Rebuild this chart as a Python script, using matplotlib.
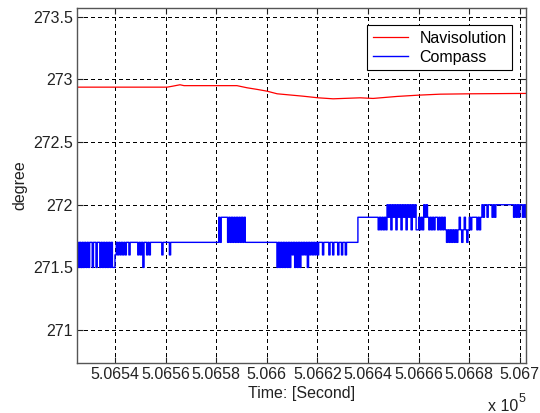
import numpy as np
import matplotlib
matplotlib.use("Agg")
import matplotlib.pyplot as plt
from matplotlib.ticker import FixedLocator, FixedFormatter

plt.rcParams['font.family'] = ['Liberation Sans', 'DejaVu Sans']

# ---------- Data ----------
# Navisolution heading, time [s] / degree
NAVI_T = [506525.0, 506560.6, 506562.6, 506565.7, 506567.3, 506588.2,
          506592.2, 506596.2, 506600.1, 506604.1, 506614.3, 506620.3,
          506626.2, 506636.9, 506642.0, 506651.5, 506659.8, 506668.5,
          506680.4, 506702.5]
NAVI_DEG = [272.938, 272.938, 272.945, 272.957, 272.950, 272.950,
            272.933, 272.920, 272.906, 272.885, 272.866, 272.853,
            272.845, 272.853, 272.848, 272.864, 272.874, 272.882,
            272.885, 272.888]

# Compass heading, one sample every 0.5 s starting at COMPASS_T0.
# Each character is the reading in tenths above 271.5 deg.
COMPASS_T0 = 506525.0
COMPASS_DT = 0.5
COMPASS_CODES = [
    "2020202020", "220220", "22020202020200", "121212121221",
    "222222121202212122222222212222212",
    "2222222222222222222222222222222222222",
    "424444424242424242424",
    "2222222222222222222222222",
    "02020202020", "2120202021212021212121",
    "2221222212212221221221222222222",
    "4444444444444444", "3434343",
    "545354535453545354535453", "34343545", "434343443434343",
    "232323232343234323", "4344443434", "54554555454",
    "55555555555555", "454545", "54545",
]
COMPASS_BASE = 271.5
COMPASS_STEP = 0.1

X_TICKS = [506540, 506560, 506580, 506600, 506620, 506640, 506660, 506680, 506700]
X_LABELS = ["5.0654", "5.0656", "5.0658", "5.066", "5.0662",
            "5.0664", "5.0666", "5.0668", "5.067"]
Y_TICKS = [271, 271.5, 272, 272.5, 273, 273.5]
Y_LABELS = ["271", "271.5", "272", "272.5", "273", "273.5"]

codes = "".join(COMPASS_CODES)
comp_deg = COMPASS_BASE + COMPASS_STEP * np.array([int(c) for c in codes])
comp_t = COMPASS_T0 + COMPASS_DT * np.arange(len(codes))

# ---------- Figure ----------
fig = plt.figure(figsize=(5.4, 4.13), dpi=100)
ax = fig.add_axes([0.1426, 0.1218, 0.8309, 0.8581])

ax.plot(NAVI_T, NAVI_DEG, color='#ff0000', lw=0.9, label='Navisolution')
ax.plot(comp_t, comp_deg, color='#0000ff', lw=1.0, drawstyle='steps-post',
        snap=False, label='Compass')

ax.set_xlim(506525.0, 506702.3)
ax.set_ylim(270.74, 273.567)

ax.xaxis.set_major_locator(FixedLocator(X_TICKS))
ax.xaxis.set_major_formatter(FixedFormatter(X_LABELS))
ax.yaxis.set_major_locator(FixedLocator(Y_TICKS))
ax.yaxis.set_major_formatter(FixedFormatter(Y_LABELS))

ax.grid(True, color='black', lw=0.75, linestyle=(0, (3, 3)), antialiased=False)
ax.tick_params(direction='in', length=4, width=0.8, colors='#222222',
               labelsize=11.5, top=True, right=True)
ax.tick_params(axis='x', pad=3)
ax.tick_params(axis='y', pad=3)
for s in ax.spines.values():
    s.set_color('#555555')
    s.set_linewidth(1.0)

ax.set_xlabel("Time: [Second]", fontsize=11.5, color='#222222', labelpad=3)
ax.set_ylabel("degree", fontsize=11.5, color='#222222', labelpad=4)

leg = ax.legend(loc='upper right', bbox_to_anchor=(0.9695, 0.953),
                borderaxespad=0, fontsize=11.5, fancybox=False,
                framealpha=1, edgecolor='black', handlelength=2.2,
                handletextpad=0.7, borderpad=0.35, labelspacing=0.25)
leg.get_frame().set_linewidth(0.8)

# exponent note under the x axis
fig.text(0.904, 0.004, "x 10", fontsize=11.5, color='#222222', va='baseline')
fig.text(0.961, 0.027, "5", fontsize=9, color='#222222', va='baseline')

fig.savefig("out.png", dpi=100)
